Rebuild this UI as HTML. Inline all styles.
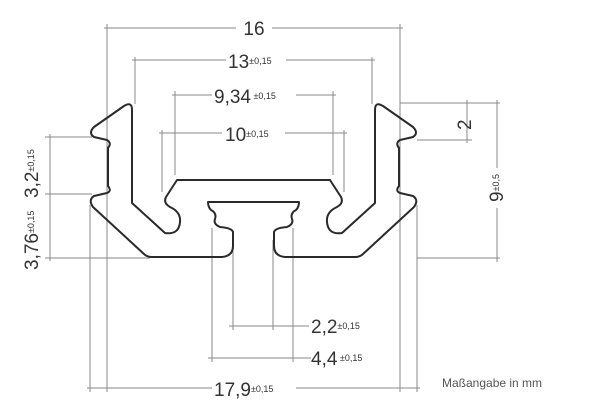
<!DOCTYPE html>
<html><head><style>
html,body{margin:0;padding:0;background:#fff;}
svg{display:block;}
text{font-family:"Liberation Sans",sans-serif;fill:#333;}
</style></head><body>
<svg width="600" height="413" viewBox="0 0 600 413" xmlns="http://www.w3.org/2000/svg">
<g stroke="#888" stroke-width="1" fill="none">
  <line x1="104" y1="28" x2="236" y2="28"/><line x1="272" y1="28" x2="403" y2="28"/>
  <line x1="107" y1="24" x2="107" y2="392"/><line x1="400" y1="24" x2="400" y2="392"/>
  <line x1="132" y1="60" x2="226" y2="60"/><line x1="286" y1="60" x2="375" y2="60"/>
  <line x1="135" y1="57" x2="135" y2="104"/><line x1="372" y1="57" x2="372" y2="104"/>
  <line x1="172" y1="95" x2="212" y2="95"/><line x1="296" y1="95" x2="336" y2="95"/>
  <line x1="175" y1="91" x2="175" y2="175"/><line x1="333" y1="91" x2="333" y2="175"/>
  <line x1="159" y1="133" x2="222" y2="133"/><line x1="285" y1="133" x2="347" y2="133"/>
  <line x1="162" y1="130" x2="162" y2="192"/><line x1="344" y1="130" x2="344" y2="192"/>
  <line x1="87" y1="388" x2="212" y2="388"/><line x1="296" y1="388" x2="420" y2="388"/>
  <line x1="90" y1="205" x2="90" y2="392"/><line x1="417" y1="205" x2="417" y2="392"/>
  <line x1="229" y1="326" x2="309" y2="326"/>
  <line x1="233" y1="240" x2="233" y2="330"/><line x1="273" y1="240" x2="273" y2="330"/>
  <line x1="208" y1="358" x2="311" y2="358"/>
  <line x1="212" y1="228" x2="212" y2="362"/><line x1="293" y1="228" x2="293" y2="362"/>
  <line x1="50" y1="134" x2="50" y2="261"/>
  <line x1="45" y1="137" x2="92" y2="137"/>
  <line x1="45" y1="194" x2="92" y2="194"/>
  <line x1="45" y1="258" x2="150" y2="258"/>
  <line x1="400" y1="103" x2="500" y2="103"/>
  <line x1="417" y1="140" x2="472" y2="140"/>
  <line x1="417" y1="258" x2="500" y2="258"/>
  <line x1="467" y1="100" x2="467" y2="143"/>
  <line x1="497" y1="100" x2="497" y2="168"/><line x1="497" y1="208" x2="497" y2="262"/>
</g>
<g stroke="#2a2a2a" stroke-width="2" fill="none" stroke-linejoin="round" stroke-linecap="round">
  <path d="M254,180 L177,180 L166,197 Q163,203 170,207 Q181,212 180,222 Q179,235 165,233 L132,203 L132,110 Q132,101 124,106 L94,127 Q88,133 94,137 L107,140 Q112,143 108,148 L108,186 Q112,191 107,193 L94,196 Q88,200 93,207 L144,254 Q147,257 152,257 L222,257 Q233,256 233,246 L233,232 Q232,228 220,227 Q213,224 215,219 Q217,213 211,210 Q208,207 208,202 L254,202"/>
  <g transform="translate(507,0) scale(-1,1)">
  <path d="M254,180 L177,180 L166,197 Q163,203 170,207 Q181,212 180,222 Q179,235 165,233 L132,203 L132,110 Q132,101 124,106 L94,127 Q88,133 94,137 L107,140 Q112,143 108,148 L108,186 Q112,191 107,193 L94,196 Q88,200 93,207 L144,254 Q147,257 152,257 L222,257 Q233,256 233,246 L233,232 Q232,228 220,227 Q213,224 215,219 Q217,213 211,210 Q208,207 208,202 L254,202"/>
  </g>
</g>
<text x="254" y="35" font-size="19" text-anchor="middle">16</text>
<text x="228" y="68" font-size="19">13<tspan font-size="9" dy="-4">±0,15</tspan></text>
<text x="214" y="103" font-size="19">9,34<tspan font-size="9" dy="-4"> ±0,15</tspan></text>
<text x="225" y="141" font-size="19">10<tspan font-size="9" dy="-4">±0,15</tspan></text>
<text x="214" y="396" font-size="19">17,9<tspan font-size="9" dy="-4">±0,15</tspan></text>
<text x="311" y="333" font-size="19">2,2<tspan font-size="9" dy="-4">±0,15</tspan></text>
<text x="311" y="365" font-size="19">4,4<tspan font-size="9" dy="-4"> ±0,15</tspan></text>
<text x="442" y="387" font-size="12" style="fill:#555">Maßangabe in mm</text>
<text transform="translate(38,198) rotate(-90)" font-size="19">3,2<tspan font-size="9" dy="-4">±0,15</tspan></text>
<text transform="translate(38,270) rotate(-90)" font-size="19">3,76<tspan font-size="9" dy="-4">±0,15</tspan></text>
<text transform="translate(471,130) rotate(-90)" font-size="19">2</text>
<text transform="translate(503,202) rotate(-90)" font-size="19">9<tspan font-size="9" dy="-4">±0,5</tspan></text>
</svg>
</body></html>
